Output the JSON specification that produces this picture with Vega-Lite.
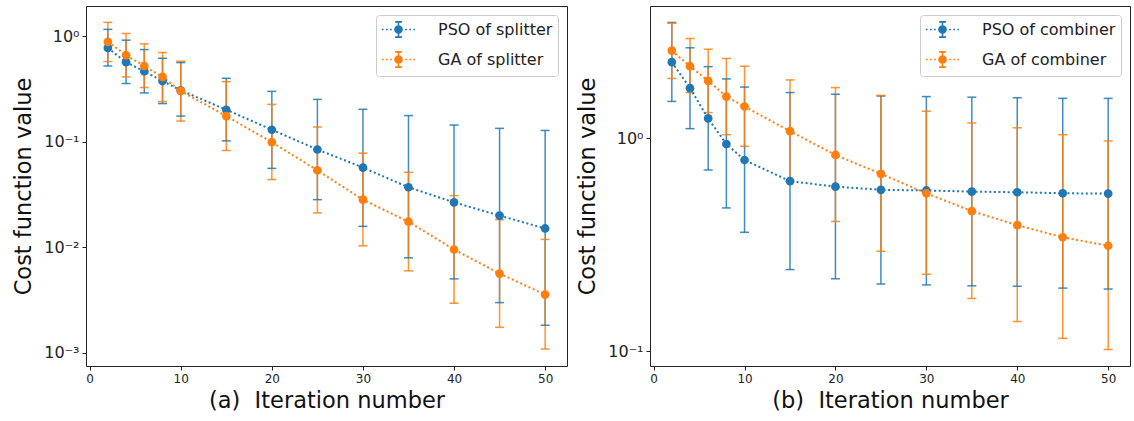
{
  "$schema": "https://vega.github.io/schema/vega-lite/v6.json",
  "padding": {"left": 12, "top": 5, "right": 2, "bottom": 0},
  "spacing": 8,
  "config": {
    "font": "DejaVu Sans",
    "view": {"stroke": "#222", "strokeWidth": 1},
    "axis": {"grid": false, "domain": false, "tickColor": "#222", "tickSize": 4, "tickWidth": 1, "labelColor": "#222", "titleColor": "#111", "titleFontWeight": "normal", "titleFontSize": 22.5, "titleFont": "DejaVu Sans", "labelFont": "DejaVu Sans"},
    "legend": {"labelFontSize": 16, "labelColor": "#222", "labelFont": "DejaVu Sans"}
  },
  "datasets": {
    "runs": [
      {"panel": "a", "algo": "PSO", "x": 2, "y": 0.774, "lo": 0.522, "hi": 1.16},
      {"panel": "a", "algo": "PSO", "x": 4, "y": 0.566, "lo": 0.356, "hi": 0.916},
      {"panel": "a", "algo": "PSO", "x": 6, "y": 0.465, "lo": 0.29, "hi": 0.747},
      {"panel": "a", "algo": "PSO", "x": 8, "y": 0.376, "lo": 0.23, "hi": 0.618},
      {"panel": "a", "algo": "PSO", "x": 10, "y": 0.307, "lo": 0.175, "hi": 0.562},
      {"panel": "a", "algo": "PSO", "x": 15, "y": 0.201, "lo": 0.102, "hi": 0.399},
      {"panel": "a", "algo": "PSO", "x": 20, "y": 0.13, "lo": 0.056, "hi": 0.3},
      {"panel": "a", "algo": "PSO", "x": 25, "y": 0.0845, "lo": 0.0283, "hi": 0.252},
      {"panel": "a", "algo": "PSO", "x": 30, "y": 0.057, "lo": 0.0158, "hi": 0.203},
      {"panel": "a", "algo": "PSO", "x": 35, "y": 0.0371, "lo": 0.00797, "hi": 0.177},
      {"panel": "a", "algo": "PSO", "x": 40, "y": 0.0267, "lo": 0.00503, "hi": 0.144},
      {"panel": "a", "algo": "PSO", "x": 45, "y": 0.02, "lo": 0.003, "hi": 0.134},
      {"panel": "a", "algo": "PSO", "x": 50, "y": 0.0151, "lo": 0.00183, "hi": 0.128},
      {"panel": "a", "algo": "GA", "x": 2, "y": 0.883, "lo": 0.575, "hi": 1.35},
      {"panel": "a", "algo": "GA", "x": 4, "y": 0.66, "lo": 0.411, "hi": 1.06},
      {"panel": "a", "algo": "GA", "x": 6, "y": 0.522, "lo": 0.326, "hi": 0.845},
      {"panel": "a", "algo": "GA", "x": 8, "y": 0.411, "lo": 0.24, "hi": 0.7},
      {"panel": "a", "algo": "GA", "x": 10, "y": 0.303, "lo": 0.157, "hi": 0.579},
      {"panel": "a", "algo": "GA", "x": 15, "y": 0.175, "lo": 0.0827, "hi": 0.371},
      {"panel": "a", "algo": "GA", "x": 20, "y": 0.099, "lo": 0.0439, "hi": 0.226},
      {"panel": "a", "algo": "GA", "x": 25, "y": 0.0537, "lo": 0.0212, "hi": 0.138},
      {"panel": "a", "algo": "GA", "x": 30, "y": 0.0283, "lo": 0.01035, "hi": 0.078},
      {"panel": "a", "algo": "GA", "x": 35, "y": 0.0175, "lo": 0.006, "hi": 0.0514},
      {"panel": "a", "algo": "GA", "x": 40, "y": 0.00955, "lo": 0.00296, "hi": 0.0309},
      {"panel": "a", "algo": "GA", "x": 45, "y": 0.00565, "lo": 0.00175, "hi": 0.0183},
      {"panel": "a", "algo": "GA", "x": 50, "y": 0.00357, "lo": 0.00109, "hi": 0.0119},
      {"panel": "b", "algo": "PSO", "x": 2, "y": 2.28, "lo": 1.49, "hi": 3.5},
      {"panel": "b", "algo": "PSO", "x": 4, "y": 1.72, "lo": 1.11, "hi": 2.66},
      {"panel": "b", "algo": "PSO", "x": 6, "y": 1.24, "lo": 0.71, "hi": 2.17},
      {"panel": "b", "algo": "PSO", "x": 8, "y": 0.94, "lo": 0.471, "hi": 1.9},
      {"panel": "b", "algo": "PSO", "x": 10, "y": 0.791, "lo": 0.362, "hi": 1.74},
      {"panel": "b", "algo": "PSO", "x": 15, "y": 0.629, "lo": 0.242, "hi": 1.64},
      {"panel": "b", "algo": "PSO", "x": 20, "y": 0.593, "lo": 0.219, "hi": 1.61},
      {"panel": "b", "algo": "PSO", "x": 25, "y": 0.573, "lo": 0.207, "hi": 1.58},
      {"panel": "b", "algo": "PSO", "x": 30, "y": 0.569, "lo": 0.205, "hi": 1.57},
      {"panel": "b", "algo": "PSO", "x": 35, "y": 0.562, "lo": 0.203, "hi": 1.56},
      {"panel": "b", "algo": "PSO", "x": 40, "y": 0.558, "lo": 0.202, "hi": 1.55},
      {"panel": "b", "algo": "PSO", "x": 45, "y": 0.552, "lo": 0.198, "hi": 1.54},
      {"panel": "b", "algo": "PSO", "x": 50, "y": 0.55, "lo": 0.196, "hi": 1.54},
      {"panel": "b", "algo": "GA", "x": 2, "y": 2.58, "lo": 1.91, "hi": 3.47},
      {"panel": "b", "algo": "GA", "x": 4, "y": 2.18, "lo": 1.64, "hi": 2.94},
      {"panel": "b", "algo": "GA", "x": 6, "y": 1.86, "lo": 1.32, "hi": 2.62},
      {"panel": "b", "algo": "GA", "x": 8, "y": 1.57, "lo": 1.04, "hi": 2.37},
      {"panel": "b", "algo": "GA", "x": 10, "y": 1.41, "lo": 0.917, "hi": 2.18},
      {"panel": "b", "algo": "GA", "x": 15, "y": 1.08, "lo": 0.63, "hi": 1.88},
      {"panel": "b", "algo": "GA", "x": 20, "y": 0.835, "lo": 0.407, "hi": 1.73},
      {"panel": "b", "algo": "GA", "x": 25, "y": 0.681, "lo": 0.295, "hi": 1.59},
      {"panel": "b", "algo": "GA", "x": 30, "y": 0.552, "lo": 0.23, "hi": 1.34},
      {"panel": "b", "algo": "GA", "x": 35, "y": 0.455, "lo": 0.177, "hi": 1.18},
      {"panel": "b", "algo": "GA", "x": 40, "y": 0.391, "lo": 0.138, "hi": 1.12},
      {"panel": "b", "algo": "GA", "x": 45, "y": 0.343, "lo": 0.115, "hi": 1.04},
      {"panel": "b", "algo": "GA", "x": 50, "y": 0.313, "lo": 0.102, "hi": 0.972}
    ]
  },
  "resolve": {"legend": {"color": "independent"}},
  "hconcat": [
    {
      "width": 481,
      "height": 360,
      "data": {"name": "runs"},
      "transform": [{"filter": "datum.panel === 'a'"}],
      "encoding": {
        "x": {"field": "x", "type": "quantitative", "scale": {"domain": [-0.4, 52.4], "nice": false, "zero": false},
              "axis": {"values": [0, 10, 20, 30, 40, 50], "labelFontSize": 12, "labelPadding": 3, "title": "(a)\u00a0 Iteration number", "titlePadding": 5}},
        "color": {"field": "algo", "type": "nominal", "scale": {"domain": ["PSO", "GA"], "range": ["#1f77b4", "#ff7f0e"]},
                  "legend": {"orient": "top-right", "offset": 9, "title": null, "labelExpr": "datum.label + ' of splitter'",
                             "fillColor": "white", "strokeColor": "#cccccc", "cornerRadius": 3, "padding": 5, "rowPadding": 7,
                             "symbolSize": 289, "symbolOffset": 8, "labelOffset": 30,
                             "symbolType": "M-1.95,0H-1.75M-1.47,0H-1.27M-0.99,0H-0.79M0.79,0H0.99M1.27,0H1.47M1.75,0H1.95M0,-0.9V0.9M-0.4,-0.9H0.4M-0.4,0.9H0.4M-0.42,0A0.42,0.42 0 1,0 0.42,0A0.42,0.42 0 1,0 -0.42,0Z",
                             "encode": {"symbols": {"update": {
                               "fill": {"scale": "color", "field": "value"},
                               "stroke": {"scale": "color", "field": "value"},
                               "strokeWidth": {"value": 1.6},
                               "opacity": {"value": 1},
                               "shape": {"value": "M-1.95,0H-1.75M-1.47,0H-1.27M-0.99,0H-0.79M0.79,0H0.99M1.27,0H1.47M1.75,0H1.95M0,-0.9V0.9M-0.4,-0.9H0.4M-0.4,0.9H0.4M-0.42,0A0.42,0.42 0 1,0 0.42,0A0.42,0.42 0 1,0 -0.42,0Z"}
                             }}}}}
      },
      "layer": [
        {"mark": {"type": "rule", "strokeWidth": 1.5, "opacity": 0.85},
         "encoding": {"y": {"field": "lo", "type": "quantitative", "scale": {"type": "log", "domain": [0.000753, 1.93], "nice": false},
                            "axis": {"values": [0.001, 0.01, 0.1, 1], "labelFontSize": 16, "labelPadding": 3,
                                     "labelExpr": "datum.value >= 0.99 ? '10⁰' : datum.value >= 0.099 ? '10⁻¹' : datum.value >= 0.0099 ? '10⁻²' : '10⁻³'",
                                     "title": "Cost function value", "titlePadding": 8}},
                      "y2": {"field": "hi"}}},
        {"mark": {"type": "tick", "orient": "horizontal", "size": 9, "thickness": 1.5, "opacity": 0.85},
         "encoding": {"y": {"field": "lo", "type": "quantitative"}}},
        {"mark": {"type": "tick", "orient": "horizontal", "size": 9, "thickness": 1.5, "opacity": 0.85},
         "encoding": {"y": {"field": "hi", "type": "quantitative"}}},
        {"mark": {"type": "line", "strokeWidth": 2, "strokeDash": [2, 2.6]},
         "encoding": {"y": {"field": "y", "type": "quantitative"}}},
        {"mark": {"type": "point", "filled": true, "size": 76, "opacity": 1},
         "encoding": {"y": {"field": "y", "type": "quantitative"}}}
      ]
    },
    {
      "width": 480,
      "height": 360,
      "data": {"name": "runs"},
      "transform": [{"filter": "datum.panel === 'b'"}],
      "encoding": {
        "x": {"field": "x", "type": "quantitative", "scale": {"domain": [-0.4, 52.4], "nice": false, "zero": false},
              "axis": {"values": [0, 10, 20, 30, 40, 50], "labelFontSize": 12, "labelPadding": 3, "title": "(b)\u00a0 Iteration number", "titlePadding": 5}},
        "color": {"field": "algo", "type": "nominal", "scale": {"domain": ["PSO", "GA"], "range": ["#1f77b4", "#ff7f0e"]},
                  "legend": {"orient": "top-right", "offset": 9, "title": null, "labelExpr": "datum.label + ' of combiner'",
                             "fillColor": "white", "strokeColor": "#cccccc", "cornerRadius": 3, "padding": 5, "rowPadding": 7,
                             "symbolSize": 289, "symbolOffset": 8, "labelOffset": 30,
                             "symbolType": "M-1.95,0H-1.75M-1.47,0H-1.27M-0.99,0H-0.79M0.79,0H0.99M1.27,0H1.47M1.75,0H1.95M0,-0.9V0.9M-0.4,-0.9H0.4M-0.4,0.9H0.4M-0.42,0A0.42,0.42 0 1,0 0.42,0A0.42,0.42 0 1,0 -0.42,0Z",
                             "encode": {"symbols": {"update": {
                               "fill": {"scale": "color", "field": "value"},
                               "stroke": {"scale": "color", "field": "value"},
                               "strokeWidth": {"value": 1.6},
                               "opacity": {"value": 1},
                               "shape": {"value": "M-1.95,0H-1.75M-1.47,0H-1.27M-0.99,0H-0.79M0.79,0H0.99M1.27,0H1.47M1.75,0H1.95M0,-0.9V0.9M-0.4,-0.9H0.4M-0.4,0.9H0.4M-0.42,0A0.42,0.42 0 1,0 0.42,0A0.42,0.42 0 1,0 -0.42,0Z"}
                             }}}}}
      },
      "layer": [
        {"mark": {"type": "rule", "strokeWidth": 1.5, "opacity": 0.85},
         "encoding": {"y": {"field": "lo", "type": "quantitative", "scale": {"type": "log", "domain": [0.0853, 4.18], "nice": false},
                            "axis": {"values": [0.1, 1], "labelFontSize": 16, "labelPadding": 3,
                                     "labelExpr": "datum.value >= 0.99 ? '10⁰' : '10⁻¹'",
                                     "title": "Cost function value", "titlePadding": 8}},
                      "y2": {"field": "hi"}}},
        {"mark": {"type": "tick", "orient": "horizontal", "size": 9, "thickness": 1.5, "opacity": 0.85},
         "encoding": {"y": {"field": "lo", "type": "quantitative"}}},
        {"mark": {"type": "tick", "orient": "horizontal", "size": 9, "thickness": 1.5, "opacity": 0.85},
         "encoding": {"y": {"field": "hi", "type": "quantitative"}}},
        {"mark": {"type": "line", "strokeWidth": 2, "strokeDash": [2, 2.6]},
         "encoding": {"y": {"field": "y", "type": "quantitative"}}},
        {"mark": {"type": "point", "filled": true, "size": 76, "opacity": 1},
         "encoding": {"y": {"field": "y", "type": "quantitative"}}}
      ]
    }
  ]
}
